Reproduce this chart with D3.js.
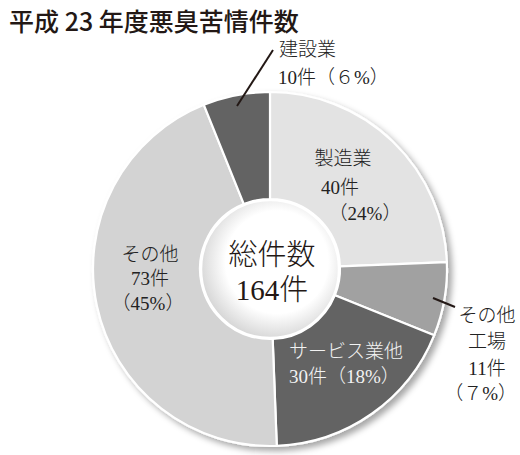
<!DOCTYPE html>
<html lang="ja">
<head>
<meta charset="utf-8">
<script src="https://cdn.jsdelivr.net/npm/d3@7"></script>
<style>
  html, body { margin: 0; padding: 0; background: #fff; }
  svg { display: block; }
  .lbl { font-family: "Liberation Serif", "Noto Sans CJK JP", serif; font-weight: 300; font-size: 19px; fill: #222; }
</style>
</head>
<body>
<svg id="chart" width="520" height="455"></svg>
<script>
// 平成23年度 悪臭苦情件数（業種別）
const categories = ["製造業", "その他工場", "サービス業他", "その他", "建設業"];
const counts     = [40, 11, 30, 73, 10];
const percents   = [24, 7, 18, 45, 6];
const fills      = ["#e3e3e3", "#a1a1a1", "#636363", "#d3d3d3", "#636363"];
const total = d3.sum(counts);

const svg = d3.select("#chart");
const cx = 270, cy = 269, rOuter = 177, rInner = 70;

const defs = svg.append("defs");
const shadow = defs.append("filter").attr("id", "shadow")
  .attr("x", "-20%").attr("y", "-20%").attr("width", "140%").attr("height", "140%");
shadow.append("feDropShadow").attr("dx", 4).attr("dy", 4).attr("stdDeviation", 3)
  .attr("flood-color", "#000").attr("flood-opacity", 0.35);

const hole = defs.append("radialGradient").attr("id", "hole")
  .attr("cx", "55%").attr("cy", "45%").attr("r", "60%");
hole.append("stop").attr("offset", "0%").attr("stop-color", "#ffffff");
hole.append("stop").attr("offset", "62%").attr("stop-color", "#ffffff");
hole.append("stop").attr("offset", "100%").attr("stop-color", "#cfcfcf");

// title
svg.append("text")
  .attr("x", 9).attr("y", 31)
  .style("font-family", "'Noto Sans CJK JP', sans-serif")
  .style("font-size", "25px").style("font-weight", 500).style("fill", "#231815")
  .text("平成 23 年度悪臭苦情件数");

const pie = d3.pie().sort(null).value(d => d)
  .startAngle(0).endAngle(2 * Math.PI);
const arcs = pie(counts);
const arc = d3.arc().innerRadius(rInner).outerRadius(rOuter);

const g = svg.append("g").attr("transform", `translate(${cx},${cy})`);

// ring with shadow
g.append("g").attr("filter", "url(#shadow)")
  .selectAll("path").data(arcs).join("path")
  .attr("d", arc)
  .attr("fill", (d, i) => fills[i])
  .attr("stroke", "#fff").attr("stroke-width", 2.2)
  .attr("stroke-linejoin", "round");

// centre disc
g.append("circle").attr("r", rInner - 1)
  .attr("fill", "url(#hole)")
  .attr("stroke", "#fff").attr("stroke-width", 2.5);

// centre total
const tc = g.append("text").attr("text-anchor", "middle")
  .style("font-family", "'Liberation Serif', 'Noto Sans CJK JP', serif")
  .style("font-weight", 300).style("font-size", "29px").style("fill", "#231815");
tc.append("tspan").attr("x", 2).attr("y", -4).text("総件数");
tc.append("tspan").attr("x", 2).attr("y", 31).text(`${total}件`);

// multi-line label helper
function label(lines, fill) {
  const t = svg.append("text").attr("class", "lbl");
  if (fill) t.style("fill", fill);
  lines.forEach(([x, y, s, anchor]) => t.append("tspan")
    .attr("x", x).attr("y", y).attr("text-anchor", anchor || "middle").text(s));
  return t;
}

const pct = p => p < 10 ? `（${String.fromCharCode(0xFF10 + p)}%）` : `（${p}%）`;

// 製造業
label([[343, 165, categories[0]], [340, 194, `${counts[0]}件`], [365, 220, pct(percents[0])]]);
// その他
label([[150, 261, categories[3]], [150, 285, `${counts[3]}件`], [148, 310, pct(percents[3])]]);
// サービス業他
label([[289, 358, categories[2], "start"], [289, 383, `${counts[2]}件${pct(percents[2])}`, "start"]], "#f2f2f2");
// その他工場
label([[487, 322, "その他"], [487, 348, "工場"], [487, 375, `${counts[1]}件`], [517, 400, pct(percents[1]), "end"]]);
// 建設業
label([[279, 56, categories[4], "start"], [278, 84, `${counts[4]}件${pct(percents[4])}`, "start"]]);

// leader lines
svg.append("line").attr("x1", 273).attr("y1", 50).attr("x2", 237).attr("y2", 106)
  .attr("stroke", "#231815").attr("stroke-width", 2);
svg.append("line").attr("x1", 433).attr("y1", 298).attr("x2", 455).attr("y2", 307)
  .attr("stroke", "#231815").attr("stroke-width", 2);
</script>
</body>
</html>
